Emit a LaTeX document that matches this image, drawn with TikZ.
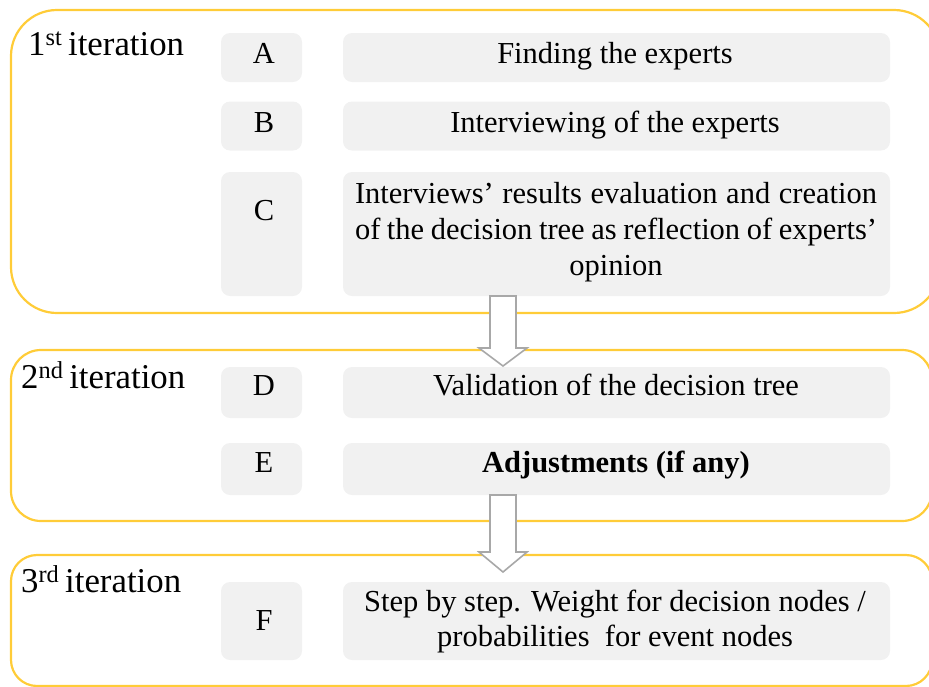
\documentclass[tikz,border=0pt]{standalone}
\usepackage{fontspec}
\setmainfont{Liberation Serif}

\definecolor{stageyellow}{RGB}{255,204,56}
\definecolor{cellgray}{RGB}{241,241,241}
\definecolor{arrowgray}{RGB}{168,168,168}

\tikzset{
  stage/.style={draw=stageyellow, line width=2.2pt},
  cell/.style={fill=cellgray, rounded corners=9pt, inner sep=0pt},
  body/.style={anchor=base, inner sep=0pt, font=\fontsize{30.5}{36}\selectfont},
  heading/.style={anchor=base west, inner sep=0pt, font=\fontsize{34.8}{40}\selectfont},
  flowarrow/.style={draw=arrowgray, fill=white, line width=1.6pt, line join=miter},
}

% hollow block arrow: centre x, top of shaft, start of head, tip
\newcommand{\flowdown}[4]{%
  \draw[flowarrow] (#1-13,#2) -- (#1+13,#2) -- (#1+13,#3) -- (#1+24,#3)
    -- (#1,#4) -- (#1-24,#3) -- (#1-13,#3) -- cycle;}

\begin{document}
\begin{tikzpicture}[x=1pt,y=-1pt]
  \useasboundingbox (0,0) rectangle (929,686);
  \clip (0,0) rectangle (929,686);

  % the three iteration frames
  \draw[stage, rounded corners=46pt] (11,10) rectangle (940,313);
  \draw[stage, rounded corners=30pt] (11,350) rectangle (932,521);
  \draw[stage, rounded corners=26pt] (11,555) rectangle (932,686);

  \node[heading] (it1) at (28,55) {1\textsuperscript{st}\,iteration};
  \node[heading] (it2) at (21,388) {2\textsuperscript{nd}\,iteration};
  \node[heading] (it3) at (21,592) {3\textsuperscript{rd}\,iteration};

  % letter column
  \node[cell, minimum width=81pt, minimum height=49pt] (boxA) at (261.5,57.5) {};
  \node[cell, minimum width=81pt, minimum height=49pt] (boxB) at (261.5,126) {};
  \node[cell, minimum width=81pt, minimum height=124pt] (boxC) at (261.5,234) {};
  \node[cell, minimum width=81pt, minimum height=51pt] (boxD) at (261.5,392.5) {};
  \node[cell, minimum width=81pt, minimum height=52pt] (boxE) at (261.5,469) {};
  \node[cell, minimum width=81pt, minimum height=78pt] (boxF) at (261.5,621) {};

  % step column
  \node[cell, minimum width=547pt, minimum height=49pt] (stepA) at (616.5,57.5) {};
  \node[cell, minimum width=547pt, minimum height=49pt] (stepB) at (616.5,126) {};
  \node[cell, minimum width=547pt, minimum height=124pt] (stepC) at (616.5,234) {};
  \node[cell, minimum width=547pt, minimum height=51pt] (stepD) at (616.5,392.5) {};
  \node[cell, minimum width=547pt, minimum height=52pt] (stepE) at (616.5,469) {};
  \node[cell, minimum width=547pt, minimum height=78pt] (stepF) at (616.5,621) {};

  % letters
  \node[body] (lA) at (264,63) {A};
  \node[body] (lB) at (264,132) {B};
  \node[body] (lC) at (264,220) {C};
  \node[body] (lD) at (264,395) {D};
  \node[body] (lE) at (264,472) {E};
  \node[body] (lF) at (264,630) {F};

  % step texts
  \node[body] (tA) at (615,63) {Finding the experts};
  \node[body] (tB) at (615,132) {Interviewing of the experts};
  \node[body] (tC1) at (616,203) {\makebox[522pt][s]{Interviews’ results evaluation and creation}};
  \node[body] (tC2) at (616,239) {\makebox[522pt][s]{of the decision tree as reflection of experts’}};
  \node[body] (tC3) at (616,275) {opinion};
  \node[body] (tD) at (616,395) {Validation of the decision tree};
  \node[body] (tE) at (616,472) {\textbf{Adjustments (if any)}};
  \node[body] (tF1) at (615,611) {Step by step. Weight for decision nodes /};
  \node[body] (tF2) at (615,646) {probabilities\ \ for event nodes};

  % arrows between iterations
  \flowdown{503}{296}{348}{366}
  \flowdown{503}{495}{552}{572}
\end{tikzpicture}
\end{document}
